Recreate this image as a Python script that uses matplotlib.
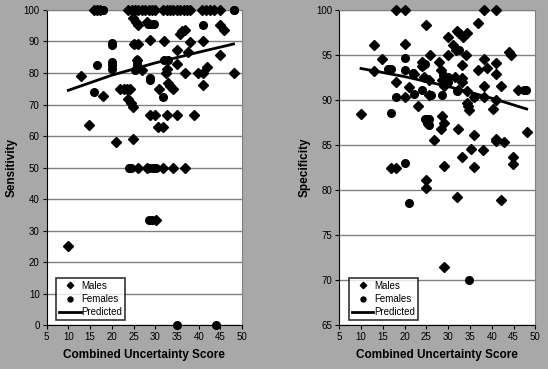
import matplotlib.pyplot as plt
import numpy as np

plt.rcParams['font.family'] = ['Liberation Sans', 'DejaVu Sans']

# --- sensitivity panel (left) ---
sens_m_x = [12.9, 16.0, 16.7, 17.3, 14.8, 18.0, 21.0, 21.9, 22.7, 23.4, 24.2, 23.8, 24.4, 24.9, 24.9,
            24.9, 25.5, 26.1, 25.0, 26.1, 25.9, 26.9, 28.0, 28.9, 28.8, 29.9, 30.9, 30.7, 31.8, 32.0,
            32.6, 33.0, 33.5, 34.1, 34.9, 34.9, 35.0, 35.7, 36.2, 36.8, 36.8, 38.0, 37.6, 38.9, 39.9,
            40.9, 40.9, 40.9, 42.0, 44.9, 44.9, 45.9, 48.0, 10.0, 23.8, 24.6, 25.4, 26.1, 26.9, 27.7,
            28.5, 29.3, 29.9, 31.8, 32.6, 33.3, 34.1, 34.9, 35.7, 36.5, 37.3, 38.0, 40.7, 41.6, 42.5,
            43.4, 44.9, 26.1, 28.0, 31.8, 34.0, 36.8, 30.2, 32.5, 32.6]
sens_m_y = [79.0, 100, 100, 100, 63.5, 72.7, 58.2, 75, 75, 75, 75, 71.6, 70.4, 69.3, 59.0,
            97.3, 96.2, 95.1, 89.3, 89.3, 84.1, 81.0, 96.2, 90.6, 66.7, 66.7, 75.0, 62.8, 62.8, 90.2,
            66.7, 76.7, 75.8, 75.0, 87.4, 66.7, 83.0, 92.5, 93.2, 93.8, 80.0, 89.9, 86.7, 66.7, 80.0,
            80.0, 90.2, 76.2, 82.0, 95.1, 85.7, 93.6, 80.0, 25.0, 100, 100, 100, 100, 100, 100,
            100, 100, 100, 100, 100, 100, 100, 100, 100, 100, 100, 100, 100, 100, 100,
            100, 100, 50, 50, 50, 50, 50, 33.3, 80.0, 81.4]
sens_f_x = [16.0, 16.7, 18.0, 20.0, 20.0, 20.0, 20.0, 20.0, 24.0, 24.4, 28.3, 28.8, 25.0, 25.9, 25.9,
            25.9, 25.3, 28.9, 28.9, 29.0, 29.7, 31.8, 32.0, 33.0, 40.9, 48.0, 48.2, 28.6, 29.2, 35.0, 44.0, 18.0,
            28.6, 29.4, 30.2]
sens_f_y = [74.0, 82.5, 100, 89.5, 88.8, 83.5, 82.5, 81.4, 50, 50, 95.7, 95.7, 89.3, 84.1, 83.0,
            82.0, 81.0, 78.3, 77.7, 95.7, 95.7, 72.5, 84.0, 84.0, 95.1, 100, 100, 33.3, 33.3, 0, 0, 100,
            50, 50, 50]
sens_pred_x = [10, 20, 30, 40, 48]
sens_pred_y = [74.5, 79.3, 83.2, 86.6, 89.2]

# --- specificity panel (right) ---
spec_m_x = [10.1, 12.9, 13.0, 14.9, 18.0, 18.0, 20.1, 20.1, 20.1, 21.1, 22.2, 23.1, 24.1, 24.1, 24.5,
            24.9, 25.5, 25.9, 25.6, 26.8, 28.0, 28.3, 28.6, 28.6, 28.3, 29.0, 29.1, 30.0, 29.9, 31.0,
            31.7, 32.0, 32.5, 33.3, 34.4, 32.2, 33.1, 33.1, 33.1, 34.0, 34.2, 34.6, 34.8, 36.0, 36.0,
            35.2, 36.9, 36.9, 38.1, 41.0, 38.1, 38.1, 38.1, 38.0, 39.0, 40.2, 41.0, 41.0, 41.0, 41.0,
            41.0, 42.1, 42.9, 44.0, 44.5, 44.8, 44.8, 45.9, 48.0, 16.9, 18.0, 24.9, 29.0, 33.1, 36.0,
            25.0, 32.0, 42.0, 29.0, 32.2, 34.4, 31.6]
spec_m_y = [88.4, 96.1, 93.2, 94.5, 92.0, 100, 100, 96.2, 90.3, 91.4, 92.9, 89.3, 94.2, 93.8, 92.6,
            98.3, 90.5, 95.0, 92.2, 85.6, 94.2, 93.3, 92.2, 88.2, 86.8, 87.4, 91.6, 95.0, 97.0, 96.1,
            95.5, 97.7, 97.4, 97.0, 97.4, 91.1, 93.9, 92.4, 92.0, 95.0, 89.7, 89.3, 88.9, 90.3, 86.1,
            84.6, 98.5, 93.3, 100, 100, 94.6, 91.6, 90.3, 84.4, 93.5, 89.0, 94.1, 92.9, 90.0, 85.7,
            85.5, 91.6, 85.3, 95.3, 95.0, 83.7, 82.9, 91.1, 86.5, 82.4, 82.4, 81.1, 82.7, 83.7, 82.6,
            80.2, 79.2, 78.9, 71.5, 86.8, 91.0, 92.5]
spec_f_x = [16.1, 16.9, 16.9, 18.0, 20.1, 20.1, 22.1, 24.1, 24.6, 25.1, 25.6, 25.1, 25.6, 26.0, 24.6,
            28.6, 28.9, 28.9, 29.9, 29.9, 32.5, 32.0, 36.0, 47.8, 47.3, 20.1, 20.9, 34.8, 29.0, 24.0, 22.0]
spec_f_y = [93.4, 93.4, 88.6, 90.3, 94.7, 93.3, 90.7, 91.1, 87.9, 87.9, 87.9, 87.4, 87.2, 90.5, 94.0,
            90.5, 92.8, 92.2, 92.6, 92.0, 95.5, 91.0, 90.3, 91.1, 91.1, 83.0, 78.6, 70.0, 91.8, 93.8, 93.0]
spec_pred_x = [10, 20, 30, 40, 48]
spec_pred_y = [93.5, 92.6, 91.5, 90.2, 89.0]

bg = '#a8a8a8'
fig = plt.figure(figsize=(5.48, 3.69), dpi=100, facecolor=bg)
ax1 = fig.add_axes([0.085, 0.119, 0.357, 0.854])
ax2 = fig.add_axes([0.619, 0.119, 0.358, 0.854])

panels = [
    (ax1, sens_m_x, sens_m_y, sens_f_x, sens_f_y, sens_pred_x, sens_pred_y, 'Sensitivity', (0, 100), 10),
    (ax2, spec_m_x, spec_m_y, spec_f_x, spec_f_y, spec_pred_x, spec_pred_y, 'Specificity', (65, 100), 5),
]

for ax, mx, my, fx, fy, px, py, ylab, ylim, step in panels:
    ax.set_facecolor('white')
    ax.plot(mx, my, 'D', color='black', ms=5, ls='none', label='Males', zorder=3, clip_on=False)
    ax.plot(fx, fy, 'o', color='black', ms=5.5, ls='none', label='Females', zorder=3, clip_on=False)
    ax.plot(px, py, '-', color='black', lw=2, label='Predicted', zorder=4)
    ax.set_xlim(5, 50)
    ax.set_ylim(*ylim)
    ax.set_xticks(np.arange(5, 51, 5))
    ax.set_yticks(np.arange(ylim[0], ylim[1] + 1, step))
    ax.yaxis.grid(True, color='#808080', lw=1)
    ax.set_axisbelow(True)
    for s in ['top', 'right']:
        ax.spines[s].set_color('#808080')
    for s in ['left', 'bottom']:
        ax.spines[s].set_color('black')
    ax.tick_params(labelsize=7, length=3, width=0.8, pad=2)
    ax.set_ylabel(ylab, fontsize=8.5, fontweight='bold', labelpad=4)
    ax.set_xlabel('Combined Uncertainty Score', fontsize=8.5, fontweight='bold', labelpad=5)
    leg = ax.legend(loc='lower left', bbox_to_anchor=(0.025, 0.0), fontsize=7, frameon=True,
                    fancybox=False, edgecolor='black', borderpad=0.3, labelspacing=0.35,
                    handlelength=2.2, handletextpad=0.1, markerscale=0.65)
    leg.get_frame().set_linewidth(1.2)

fig.savefig('out.png', dpi=100, facecolor=bg)
